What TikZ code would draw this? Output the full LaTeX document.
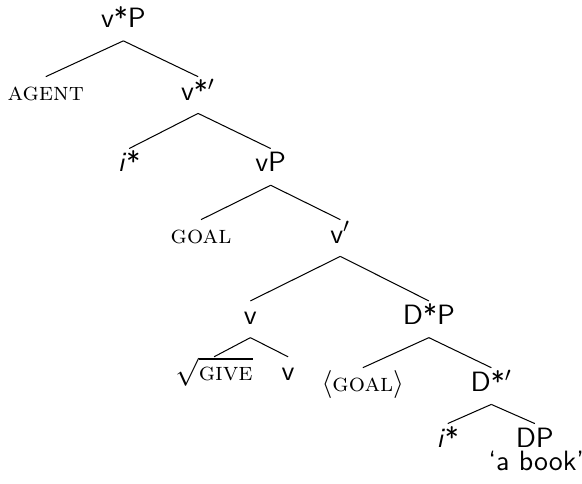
\documentclass[tikz,border=0pt]{standalone}
\usepackage{amsmath, amssymb}
\usetikzlibrary{positioning}
\renewcommand{\familydefault}{\sfdefault}
\def\scap#1{{\fontsize{10}{12}\selectfont\textrm{\textsc{#1}}}}
\tikzstyle{lbl} = [anchor=base, font=\fontsize{10.95}{13.6}\selectfont, text height=6.5pt, text depth=2.5pt, inner ysep=2.5pt]
\tikzstyle{leaf} = [lbl, text height=9pt, text depth=0pt, inner ysep=0pt]
\tikzstyle{branch} = [thin, black]

\begin{document}
\begin{tikzpicture}
      \useasboundingbox (0,0) rectangle (8.02,6.66);
      % top of the tree
      \node[lbl] (vsP) at (1.70,6.28) {v*P};
      \node[lbl] (agent) at (0.63,5.28) {\scap{agent}};
      \node[lbl] (vsbar) at (2.73,5.28) {v*$'$};
      \node[lbl] (istar1) at (1.78,4.29) {\textit{i}*};
      \node[lbl] (vP) at (3.73,4.29) {vP};
      \node[lbl] (goal) at (2.77,3.31) {\scap{goal}};
      \node[lbl] (vbar) at (4.69,3.31) {v$'$};
      \node[lbl] (v) at (3.45,2.19) {v};
      \node[lbl] (DsP) at (5.91,2.19) {D*P};
      % lower part
      \node[lbl] (give) at (2.95,1.42) {$\sqrt{\textrm{\scap{give}}}$};
      \node[lbl] (vhead) at (3.97,1.42) {v};
      \node[lbl] (goalcopy) at (5.00,1.27) {$\langle$\scap{goal}$\rangle$};
      \node[lbl] (Dsbar) at (6.77,1.27) {D*$'$};
      \node[lbl] (istar2) at (6.17,0.50) {\textit{i}*};
      \node[leaf] (DP) at (7.37,0.50) {DP};
      \node[anchor=base, inner sep=0pt, font=\fontsize{10.95}{13.6}\selectfont] (gloss) at (7.39,0.17) {‘a book’};
      \draw[branch] (vsP.south)--(agent.north);
      \draw[branch] (vsP.south)--(vsbar.north);
      \draw[branch] (vsbar.south)--(istar1.north);
      \draw[branch] (vsbar.south)--(vP.north);
      \draw[branch] (vP.south)--(goal.north);
      \draw[branch] (vP.south)--(vbar.north);
      \draw[branch] (vbar.south)--(v.north);
      \draw[branch] (vbar.south)--(DsP.north);
      \draw[branch] (v.south)--(give.north);
      \draw[branch] (v.south)--(vhead.north);
      \draw[branch] (DsP.south)--(goalcopy.north);
      \draw[branch] (DsP.south)--(Dsbar.north);
      \draw[branch] (Dsbar.south)--(istar2.north);
      \draw[branch] (Dsbar.south)--(DP.north);
\end{tikzpicture}
\end{document}
